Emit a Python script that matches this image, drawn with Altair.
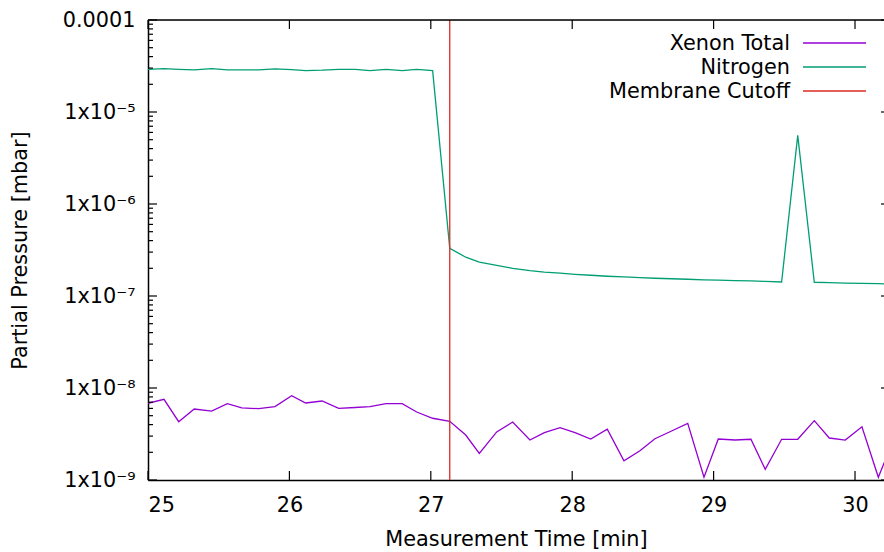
import altair as alt
import pandas as pd

# ---- data ----
time_min = [25.000, 25.113, 25.217, 25.327, 25.450, 25.561, 25.663, 25.783, 25.898, 26.016,
            26.115, 26.231, 26.349, 26.464, 26.570, 26.683, 26.798, 26.900, 27.013, 27.134,
            27.247, 27.343, 27.466, 27.579, 27.701, 27.803, 27.914, 28.020, 28.131, 28.248,
            28.366, 28.479, 28.585, 28.703, 28.817, 28.932, 29.033, 29.151, 29.264, 29.365,
            29.481, 29.595, 29.712, 29.818, 29.931, 30.049, 30.165, 30.279]

xenon_total = [6.82e-9, 7.54e-9, 4.30e-9, 5.91e-9, 5.62e-9, 6.75e-9, 6.07e-9, 5.96e-9, 6.27e-9, 8.24e-9,
               6.87e-9, 7.22e-9, 6.01e-9, 6.14e-9, 6.27e-9, 6.75e-9, 6.75e-9, 5.48e-9, 4.69e-9, 4.35e-9,
               3.08e-9, 1.95e-9, 3.33e-9, 4.27e-9, 2.72e-9, 3.27e-9, 3.70e-9, 3.27e-9, 2.79e-9, 3.56e-9,
               1.62e-9, 2.08e-9, 2.81e-9, 3.41e-9, 4.13e-9, 1.07e-9, 2.79e-9, 2.72e-9, 2.77e-9, 1.31e-9,
               2.77e-9, 2.77e-9, 4.42e-9, 2.86e-9, 2.72e-9, 3.79e-9, 1.07e-9, 2.90e-9]

nitrogen = [2.91e-5, 2.96e-5, 2.91e-5, 2.87e-5, 2.96e-5, 2.87e-5, 2.87e-5, 2.87e-5, 2.94e-5, 2.89e-5,
            2.82e-5, 2.85e-5, 2.91e-5, 2.91e-5, 2.82e-5, 2.91e-5, 2.82e-5, 2.91e-5, 2.82e-5, 3.30e-7,
            2.64e-7, 2.34e-7, 2.15e-7, 2.00e-7, 1.89e-7, 1.82e-7, 1.77e-7, 1.72e-7, 1.68e-7, 1.64e-7,
            1.61e-7, 1.58e-7, 1.56e-7, 1.54e-7, 1.52e-7, 1.50e-7, 1.49e-7, 1.47e-7, 1.46e-7, 1.44e-7,
            1.42e-7, 5.58e-6, 1.41e-7, 1.40e-7, 1.38e-7, 1.37e-7, 1.36e-7, 1.35e-7]

cutoff_time = [27.134]

legend_labels = ["Xenon Total", "Nitrogen", "Membrane Cutoff"]
legend_colors = ["#9400D3", "#009E73", "#DC2A22"]

x_ticks = [25, 26, 27, 28, 29, 30]
y_major = [1e-9, 1e-8, 1e-7, 1e-6, 1e-5, 1e-4]
y_labels = ["1x10\u207b\u2079", "1x10\u207b\u2078", "1x10\u207b\u2077",
            "1x10\u207b\u2076", "1x10\u207b\u2075", "0.0001"]
x_domain = [25.0, 30.205]
y_domain = [1e-9, 1e-4]

# minor log ticks (2..9 in every decade)
y_minor = [m * d for d in y_major[:-1] for m in range(2, 10)]

W, H = 736, 460
FONT = "DejaVu Sans"
FS = 20.8

df = pd.DataFrame({"t": time_min, "xe": xenon_total, "n2": nitrogen})

xscale = alt.Scale(domain=x_domain, nice=False, zero=False)
yscale = alt.Scale(type="log", domain=y_domain, nice=False)

# label expression for y axis built from the label lists
expr = "''"
for v, lab in zip(reversed(y_major), reversed(y_labels)):
    expr = f"(abs(log(datum.value) - log({v})) < 0.01 ? '{lab}' : {expr})"

x_axis = alt.Axis(values=x_ticks, format="d", ticks=False, tickSize=0, grid=False,
                  labelFont=FONT, labelFontSize=FS, labelColor="black", labelPadding=15,
                  domainColor="black", domainWidth=1.5,
                  title="Measurement Time [min]", titleFont=FONT, titleFontSize=FS,
                  titleFontWeight="normal", titleColor="black", titlePadding=15)
y_axis = alt.Axis(values=y_major, labelExpr=expr, ticks=False, tickSize=0, grid=False,
                  labelFont=FONT, labelFontSize=FS, labelColor="black", labelPadding=13,
                  domainColor="black", domainWidth=1.5,
                  title="Partial Pressure [mbar]", titleFont=FONT, titleFontSize=FS,
                  titleFontWeight="normal", titleColor="black", titlePadding=32)

X = alt.X("t:Q", scale=xscale, axis=x_axis, title="Measurement Time [min]")

xenon_line = alt.Chart(df).mark_line(color=legend_colors[0], strokeWidth=1.3, clip=True).encode(
    x=X, y=alt.Y("xe:Q", scale=yscale, axis=y_axis, title="Partial Pressure [mbar]"))
n2_line = alt.Chart(df).mark_line(color=legend_colors[1], strokeWidth=1.3, clip=True).encode(
    x=X, y=alt.Y("n2:Q", scale=yscale, axis=y_axis, title="Partial Pressure [mbar]"))
cutoff = alt.Chart(pd.DataFrame({"t": cutoff_time})).mark_rule(
    color=legend_colors[2], strokeWidth=1.3).encode(x=X)

# inward ticks (gnuplot style), mirrored
ymaj_df = pd.DataFrame({"v": y_major})
ymin_df = pd.DataFrame({"v": y_minor})
xt_df = pd.DataFrame({"t": x_ticks})
Ymaj = alt.Y("v:Q", scale=yscale, axis=y_axis, title="Partial Pressure [mbar]")

tick_style = dict(color="black", strokeWidth=1.2)
left_major = alt.Chart(ymaj_df).mark_rule(**tick_style).encode(
    y=Ymaj, x=alt.value(0), x2=alt.value(9))
left_minor = alt.Chart(ymin_df).mark_rule(**tick_style).encode(
    y=Ymaj, x=alt.value(0), x2=alt.value(5))
right_major = alt.Chart(ymaj_df).mark_rule(**tick_style).encode(
    y=Ymaj, x=alt.value(W - 3), x2=alt.value(W))
bottom_ticks = alt.Chart(xt_df).mark_rule(**tick_style).encode(
    x=X, y=alt.value(H), y2=alt.value(H - 9))
top_ticks = alt.Chart(xt_df).mark_rule(**tick_style).encode(
    x=X, y=alt.value(0), y2=alt.value(9))
top_border = alt.Chart(xt_df.head(1)).mark_rule(color="black", strokeWidth=1.5).encode(
    x=alt.value(0), x2=alt.value(W), y=alt.value(0))

# key (gnuplot style: text right-aligned, sample line on the right)
legend_layers = []
for i, (lab, col) in enumerate(zip(legend_labels, legend_colors)):
    yy = 24 + 24 * i
    ldf = pd.DataFrame({"label": [lab]})
    legend_layers.append(alt.Chart(ldf).mark_text(
        align="right", baseline="middle", font=FONT, fontSize=FS, color="black").encode(
        text="label:N", x=alt.value(642), y=alt.value(yy)))
    legend_layers.append(alt.Chart(ldf).mark_rule(color=col, strokeWidth=1.3).encode(
        x=alt.value(655), x2=alt.value(718), y=alt.value(yy - 1)))

chart = alt.layer(
    xenon_line, n2_line, cutoff,
    left_major, left_minor, right_major, bottom_ticks, top_ticks, top_border,
    *legend_layers
).properties(
    width=W, height=H,
    autosize=alt.AutoSizeParams(type="none"),
    padding={"left": 148, "top": 20, "right": 0, "bottom": 72},
).configure_view(stroke=None).configure(background="white")

chart.save("out.html", embed_options={"renderer": "svg", "actions": False})
